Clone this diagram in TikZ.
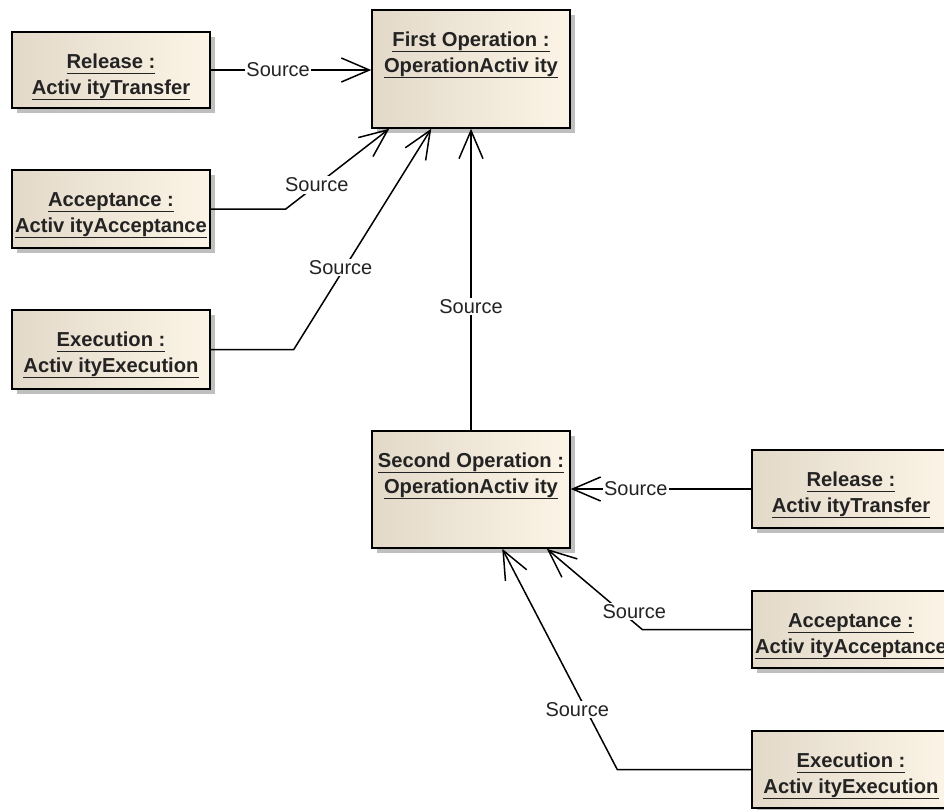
\documentclass[tikz,border=0pt]{standalone}
\usepackage{fontspec}
\setmainfont{Liberation Sans}
\usetikzlibrary{arrows.meta,shadows}
\definecolor{boxl}{RGB}{226,217,201}
\definecolor{boxr}{RGB}{252,244,230}
\definecolor{ink}{RGB}{35,35,35}
\newcommand{\ulbox}[1]{\setbox0\hbox{#1}\rlap{\rule[-6.3pt]{\wd0}{1.6pt}}\box0}
\begin{document}
\begin{tikzpicture}[x=1pt,y=-1pt,
  objbox/.style={draw=black, line width=1.5pt, left color=boxl, right color=boxr,
    inner sep=0pt, general shadow={fill=black!25, shadow xshift=5pt, shadow yshift=-5pt}},
  boxline/.style={anchor=base, inner sep=0pt, font=\fontsize{20.2}{24}\selectfont\bfseries, text=ink},
  conn/.style={line width=1.5pt, -{Straight Barb[length=28pt,width=24pt,line width=1.5pt]}},
  lbl/.style={fill=white, inner sep=1.5pt, font=\fontsize{20}{24}\selectfont, text=ink}]
\useasboundingbox (0,0) rectangle (944,809);
\clip (0,0) rectangle (944,809);

% left boxes
\node[objbox, minimum width=198pt, minimum height=76pt] (rl) at (111,70) {};
\node[boxline] at (111,68) {\ulbox{Release :}};
\node[boxline] at (111,94) {\ulbox{Activ ityTransfer}};

\node[objbox, minimum width=198pt, minimum height=78pt] (al) at (111,209) {};
\node[boxline] at (111,206) {\ulbox{Acceptance :}};
\node[boxline] at (111,232) {\ulbox{Activ ityAcceptance}};

\node[objbox, minimum width=198pt, minimum height=79pt] (el) at (111,349.5) {};
\node[boxline] at (111,346) {\ulbox{Execution :}};
\node[boxline] at (111,372) {\ulbox{Activ ityExecution}};

% operation boxes
\node[objbox, minimum width=198pt, minimum height=118pt] (f1) at (471,69) {};
\node[boxline] at (471,46) {\ulbox{First Operation :}};
\node[boxline] at (471,72) {\ulbox{OperationActiv ity}};

\node[objbox, minimum width=198pt, minimum height=117pt] (s2) at (471,489.5) {};
\node[boxline] at (471,467) {\ulbox{Second Operation :}};
\node[boxline] at (471,493) {\ulbox{OperationActiv ity}};

% right boxes
\node[objbox, minimum width=198pt, minimum height=78pt] (rr) at (851,489) {};
\node[boxline] at (851,486) {\ulbox{Release :}};
\node[boxline] at (851,512) {\ulbox{Activ ityTransfer}};

\node[objbox, minimum width=198pt, minimum height=77pt] (ar) at (851,629.5) {};
\node[boxline] at (851,627) {\ulbox{Acceptance :}};
\node[boxline] at (851,653) {\ulbox{Activ ityAcceptance}};

\node[objbox, minimum width=198pt, minimum height=77pt] (er) at (851,769.5) {};
\node[boxline] at (851,767) {\ulbox{Execution :}};
\node[boxline] at (851,793) {\ulbox{Activ ityExecution}};

% connectors to First Operation
\draw[conn] (rl.east) -- node[lbl, pos=0.42] {Source} (rl.east -| f1.west);
\draw[conn] (al.east) -- ++(75,0) -- node[lbl, pos=0.3] {Source} ([xshift=18pt]f1.south west);
\draw[conn] (el.east) -- ++(83,0) -- node[lbl, pos=0.37, xshift=-4pt] {Source} ([xshift=60pt]f1.south west);
\draw[conn] (s2.north) -- node[lbl, pos=0.41] {Source} (f1.south);

% connectors to Second Operation
\draw[conn] (rr.west) -- node[lbl, pos=0.64] {Source} (rr.west -| s2.east);
\draw[conn] (ar.west) -- ++(-109,0) -- node[lbl, pos=0.22, xshift=13pt] {Source} ([xshift=-24pt]s2.south east);
\draw[conn] (er.west) -- ++(-134,0) -- node[lbl, pos=0.27, xshift=-9pt] {Source} ([xshift=131pt]s2.south west);
\end{tikzpicture}
\end{document}
